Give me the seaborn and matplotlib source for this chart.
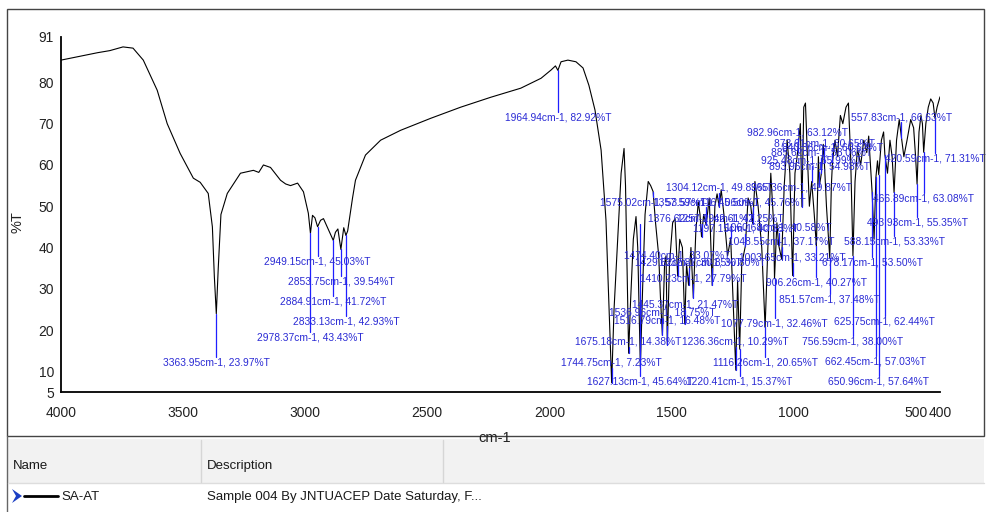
import matplotlib
matplotlib.use('Agg')
import matplotlib.pyplot as plt
import seaborn as sns
import pandas as pd
from matplotlib.patches import Rectangle, Polygon
from matplotlib.lines import Line2D

# spectrum, high wavenumber part
wn_high = [4000, 3950, 3900, 3850, 3800, 3746, 3705, 3663, 3606, 3565, 3512, 3458,
           3430, 3397, 3380, 3372, 3363.95, 3356, 3345, 3319, 3265, 3212, 3190, 3171,
           3142, 3101, 3080, 3060, 3031, 3007, 2987, 2978.37, 2970, 2960, 2949.15, 2937,
           2925, 2904, 2884.91, 2876, 2866, 2853.75, 2842, 2833.13, 2826, 2806, 2794,
           2753, 2691, 2609, 2486, 2363, 2240, 2117, 2034, 1993, 1975, 1964.94, 1952,
           1924, 1891, 1862, 1838, 1813, 1788, 1768, 1755]
t_high = [85.4, 86.0, 86.6, 87.2, 87.7, 88.6, 88.3, 85.4, 78.1, 70.0, 62.8, 56.8,
          55.8, 53.1, 45.0, 33.0, 23.97, 35.0, 48.0, 53.1, 58.0, 58.7, 58.2, 60.0,
          59.4, 56.3, 55.4, 55.0, 55.6, 53.5, 48.3, 43.43, 47.8, 47.2, 45.03, 46.6,
          47.0, 44.2, 41.72, 43.7, 44.5, 39.54, 44.8, 42.93, 44.0, 52.0, 56.3,
          62.4, 66.0, 68.4, 71.3, 74.0, 76.4, 78.6, 81.0, 83.0, 84.0, 82.92, 85.0,
          85.4, 85.0, 83.5, 79.3, 73.3, 63.6, 46.6, 25.0]

# fingerprint region
wn_finger = [1744.75, 1735, 1720, 1706, 1694, 1688, 1680, 1675.18, 1668, 1656, 1645, 1638,
             1627.13, 1618, 1608, 1595, 1585, 1575.02, 1565, 1552, 1545, 1536.96, 1528,
             1522, 1516.79, 1508, 1495, 1485, 1474.40, 1466, 1455, 1445.37, 1438, 1429.62,
             1420, 1410.23, 1400, 1390, 1383, 1376.62, 1368, 1357.59, 1345, 1332.87, 1322,
             1313, 1304.12, 1296, 1285, 1270, 1257.29, 1248, 1236.36, 1229, 1220.41, 1212,
             1197.15, 1186, 1175, 1167.06, 1158, 1145, 1130, 1116.26, 1105, 1093, 1081.42,
             1077.79, 1068, 1060.68, 1048.55, 1038, 1026, 1015, 1003.65, 994, 982.96, 972,
             965.36, 958, 951, 943, 935, 925.48, 915, 906.26, 898, 893.96, 885.62, 878,
             873.61, 865, 851.57, 845, 840.36, 830, 820, 808, 798, 785, 775, 766, 756.59,
             748, 738, 725, 712, 700, 692, 685, 678.17, 670, 662.45, 656, 650.96, 640, 631,
             625.75, 615, 605, 596, 588.15, 578, 567, 557.83, 548, 535, 520, 508, 500,
             493.93, 486, 478, 472, 466.89, 458, 448, 438, 428, 420.59, 412, 400]
t_finger = [7.23, 25, 42, 58, 64, 55, 30, 14.38, 26, 42, 47.5, 40,
            11.0, 30, 48, 56, 55, 53.57, 46, 38, 28, 18.75, 36,
            38, 16.48, 36, 46, 47, 33.07, 42, 40, 21.47, 36, 30.85,
            40, 27.79, 44, 51, 48, 42.61, 48, 45.50, 52, 30.80, 50,
            53, 49.83, 54, 48, 38, 42.25, 28, 10.29, 32, 15.37, 36,
            40.38, 52, 50, 45.76, 56, 50, 40, 20.65, 40, 58, 45.76,
            32.46, 46, 40.58, 37.17, 55, 66, 58, 33.21, 58, 63.12, 70,
            49.87, 74, 75, 62, 50, 55.99, 48, 40.27, 62, 54.98, 58.06, 65,
            60.65, 50, 37.48, 55, 60.62, 66, 62, 72, 70, 74, 75, 62, 38.00,
            56, 64, 60, 66, 63, 67, 60, 53.50, 42, 57.03, 61, 57.64, 66, 68,
            62.44, 58, 66, 62, 53.33, 66, 71, 66.63, 62, 66, 71, 69, 62,
            55.35, 68, 72, 70, 63.08, 70, 74, 76, 75, 71.31, 74, 76.5]

# peak picks printed on the chart
peak_wn = [3363.95, 2978.37, 2833.13, 2884.91, 2853.75, 2949.15, 1964.94, 1304.12,
           1575.02, 1357.59, 1167.06, 1376.62, 1257.29, 1197.15, 1060.68, 1048.55,
           1474.40, 1003.65, 1429.62, 1332.87, 1410.23, 1445.37, 1536.96, 1516.79,
           1077.79, 1675.18, 1236.36, 1744.75, 1116.26, 1627.13, 1220.41, 982.96,
           965.36, 873.61, 840.36, 885.62, 925.48, 893.96, 557.83, 420.59, 466.89,
           493.93, 588.15, 678.17, 906.26, 851.57, 625.75, 756.59, 662.45, 650.96]
peak_t = [23.97, 43.43, 42.93, 41.72, 39.54, 45.03, 82.92, 49.83,
          53.57, 45.50, 45.76, 42.61, 42.25, 40.38, 40.58, 37.17,
          33.07, 33.21, 30.85, 30.80, 27.79, 21.47, 18.75, 16.48,
          32.46, 14.38, 10.29, 7.23, 20.65, 45.64, 15.37, 63.12,
          49.87, 60.65, 60.62, 58.06, 55.99, 54.98, 66.63, 71.31, 63.08,
          55.35, 53.33, 53.50, 40.27, 37.48, 62.44, 38.00, 57.03, 57.64]
# where each peak label sits (in %T)
label_y = [12.1, 18.2, 22.1, 26.9, 31.8, 36.6, 71.6, 54.6,
           51.0, 51.0, 51.0, 47.1, 47.1, 44.6, 44.9, 41.5,
           38.1, 37.6, 36.4, 36.4, 32.5, 26.2, 24.3, 22.3,
           21.6, 17.2, 17.2, 12.1, 12.1, 7.5, 7.5, 67.9,
           54.6, 65.3, 64.3, 63.1, 61.1, 59.7, 71.6, 61.6, 51.9,
           46.1, 41.5, 36.4, 31.5, 27.4, 22.1, 17.2, 12.4, 7.5]

x_ticks = [4000, 3500, 3000, 2500, 2000, 1500, 1000, 500, 400]
y_ticks = [5, 10, 20, 30, 40, 50, 60, 70, 80, 91]

W, H = 986, 512
sns.set_style('white')
plt.rcParams['font.family'] = ['Liberation Sans Narrow', 'Liberation Sans', 'DejaVu Sans']

def fx(px):
    return px / W

def fy(py):
    return 1 - py / H

fig = plt.figure(figsize=(W / 100, H / 100), dpi=100)
ax = fig.add_axes([fx(61), fy(392), (940 - 61) / W, (392 - 37) / H])

df = pd.DataFrame({'cm-1': wn_high + wn_finger, '%T': t_high + t_finger})
sns.lineplot(data=df, x='cm-1', y='%T', color='black', lw=0.8, ax=ax,
             sort=False, estimator=None)

# peak labels with their blue leader lines
lab_font = ['Liberation Sans', 'DejaVu Sans']
for w, t, ly in zip(peak_wn, peak_t, label_y):
    if ly < t:
        ax.plot([w, w], [t, ly + 1.3], color='#1f1fff', lw=0.9, zorder=3)
    else:
        ax.plot([w, w], [t, ly - 1.3], color='#1f1fff', lw=0.9, zorder=3)
    ax.text(w, ly, f'{w:.2f}cm-1, {t:.2f}%T', ha='center', va='center',
            fontsize=7.4, color='#2a2ad4', family=lab_font, zorder=4)

ax.set_xlim(4000, 400)
ax.set_ylim(5, 91)
ax.set_xticks(x_ticks)
ax.set_yticks(y_ticks)
ax.set_xlabel('')
ax.set_ylabel('')
ax.tick_params(axis='x', direction='out', length=5, width=1, pad=5,
               labelsize=10, colors='#222222')
ax.tick_params(axis='y', direction='out', length=4, width=1, pad=1,
               labelsize=10, colors='#222222')
for s in ['top', 'right']:
    ax.spines[s].set_visible(False)
for s in ['left', 'bottom']:
    ax.spines[s].set_color('black')
    ax.spines[s].set_linewidth(1.3)

fig.text(fx(495), fy(438), 'cm-1', ha='center', va='center', fontsize=10.5, color='#222222')
fig.text(fx(17), fy(222), '%T', ha='center', va='center', rotation=90,
         fontsize=10.5, color='#222222')

# outer frame of the graph panel
fig.patches.append(Rectangle((fx(7), fy(436)), fx(984) - fx(7), fy(9) - fy(436),
                             transform=fig.transFigure, fill=False,
                             edgecolor='#444444', lw=1.0))
fig.lines.append(Line2D([fx(7), fx(7)], [fy(436), 0], transform=fig.transFigure,
                        color='#666666', lw=1.0))

# legend table under the graph
fig.patches.append(Rectangle((fx(8), fy(483)), fx(984) - fx(8), fy(439) - fy(483),
                             transform=fig.transFigure, facecolor='#f2f2f2',
                             edgecolor='none'))
fig.lines.append(Line2D([fx(8), fx(984)], [fy(483), fy(483)], transform=fig.transFigure,
                        color='#dddddd', lw=1.0))
for sx in [201, 443]:
    fig.lines.append(Line2D([fx(sx), fx(sx)], [fy(440), fy(482)], transform=fig.transFigure,
                            color='#d6d6d6', lw=1.0))
fig.text(fx(13), fy(466), 'Name', ha='left', va='center', fontsize=9.5, color='#1a1a1a')
fig.text(fx(207), fy(466), 'Description', ha='left', va='center', fontsize=9.5, color='#1a1a1a')

fig.patches.append(Polygon([(fx(12), fy(489)), (fx(22), fy(496)), (fx(12), fy(503)),
                            (fx(16), fy(496))], closed=True, transform=fig.transFigure,
                           facecolor='#1b3fc4', edgecolor='none'))
fig.lines.append(Line2D([fx(24), fx(58)], [fy(496), fy(496)], transform=fig.transFigure,
                        color='black', lw=2.0))
fig.text(fx(61), fy(497), 'SA-AT', ha='left', va='center', fontsize=9.5, color='#1a1a1a')
fig.text(fx(207), fy(497), 'Sample 004 By JNTUACEP Date Saturday, F...', ha='left',
         va='center', fontsize=9.5, color='#1a1a1a')

fig.savefig('out.png', dpi=100, facecolor='white')
